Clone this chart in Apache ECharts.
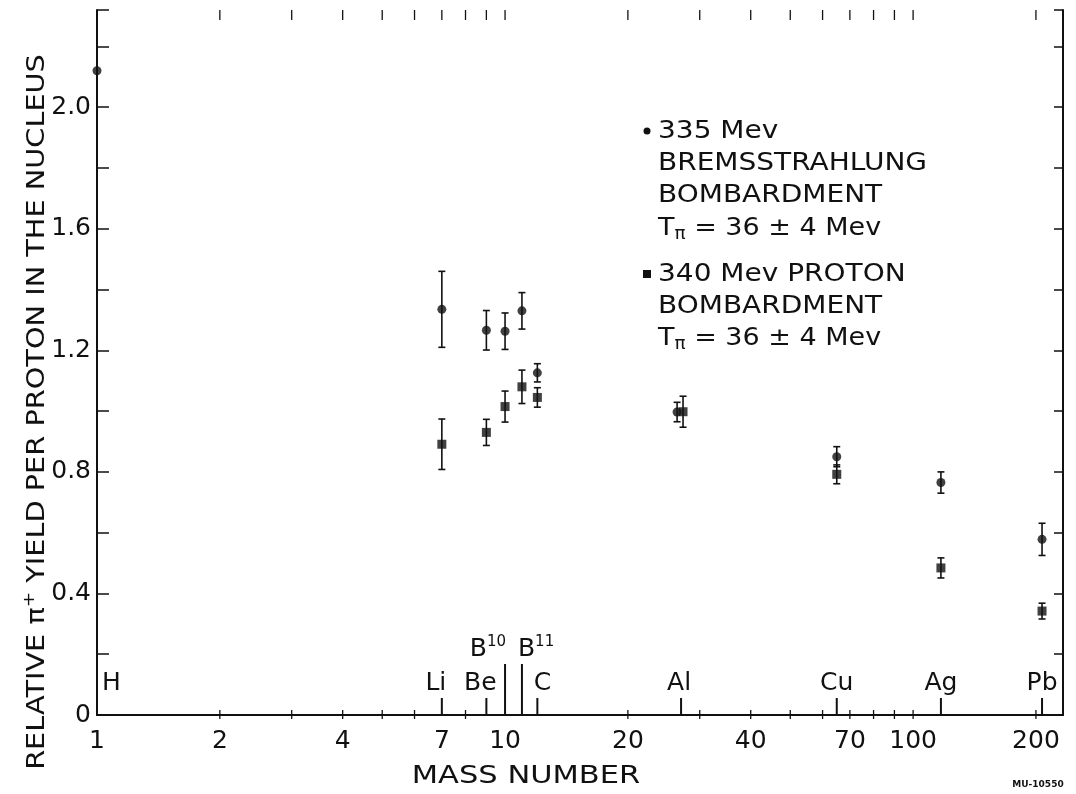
<!DOCTYPE html>
<html><head><meta charset="utf-8">
<script src="https://cdn.jsdelivr.net/npm/echarts@6/dist/echarts.min.js"></script>
<style>html,body{margin:0;padding:0;background:#fff}#c{width:1076px;height:794px}</style>
</head><body><div id="c"></div>
<script>
// ---- data ----
const xTickLabels = [1, 2, 4, 7, 10, 20, 40, 70, 100, 200];
const xBottomMinorTicks = [2, 3, 4, 5, 6, 8, 20, 30, 40, 50, 60, 70, 80, 90, 100, 200];
const xTopTicks = [2, 3, 4, 5, 6, 7, 8, 9, 10, 20, 30, 40, 50, 60, 70, 80, 90, 100, 200];
const yTickLabels = ['0', '0.4', '0.8', '1.2', '1.6', '2.0'];
const elementNames = ['H', 'Li', 'Be', 'B10', 'B11', 'C', 'Al', 'Cu', 'Ag', 'Pb'];
const elementMass = [1, 7, 9, 10, 11, 12, 27, 65, 117, 207];

// 335 Mev bremsstrahlung bombardment (circles)
const bremMass = [1, 7, 9, 10, 11, 12, 26.4, 65, 117, 207];
const bremYield = [2.12, 1.335, 1.266, 1.263, 1.33, 1.126, 0.997, 0.85, 0.765, 0.578];
const bremErr = [0, 0.125, 0.065, 0.06, 0.06, 0.03, 0.032, 0.033, 0.035, 0.053];

// 340 Mev proton bombardment (squares)
const protMass = [7, 9, 10, 11, 12, 27.3, 65, 117, 207];
const protYield = [0.891, 0.93, 1.015, 1.08, 1.045, 0.998, 0.792, 0.484, 0.342];
const protErr = [0.083, 0.043, 0.051, 0.055, 0.032, 0.051, 0.031, 0.033, 0.026];

const X_MIN = 1, X_MAX = 233, Y_MIN = 0, Y_MAX = 2.32;

// ---- style ----
const INK = '#111';
const FONT = 'DejaVu Sans';
const elemLabelStyle = {
  H: { dx: 5, align: 'left' }, Li: { dx: -6 }, Be: { dx: -6 },
  B10: { dx: 1, align: 'right' }, B11: { dx: -4, align: 'left' },
  C: { dx: 5 }, Al: { dx: -2 }, Cu: { dx: 0 }, Ag: { dx: 0 }, Pb: { dx: 0 }
};

const chart = echarts.init(document.getElementById('c'), null, { renderer: 'canvas' });

function logAxis(pos) {
  return {
    type: 'log', logBase: 10, min: X_MIN, max: X_MAX, position: pos,
    axisLine: { show: true, lineStyle: { color: INK, width: 2 } },
    axisTick: { show: false }, axisLabel: { show: false },
    splitLine: { show: false }, minorTick: { show: false }, minorSplitLine: { show: false }
  };
}

function errBarSeries(name, mass, vals, errs) {
  const d = [];
  mass.forEach((m, i) => { if (errs[i] > 0) d.push([m, vals[i] - errs[i], vals[i] + errs[i]]); });
  return {
    type: 'custom', name: name + ' err', clip: false, z: 3, silent: true,
    data: d, encode: { x: 0, y: [1, 2] },
    renderItem(params, api) {
      const lo = api.coord([api.value(0), api.value(1)]);
      const hi = api.coord([api.value(0), api.value(2)]);
      const w = 3.5;
      const st = { stroke: INK, lineWidth: 1.6 };
      return { type: 'group', children: [
        { type: 'line', shape: { x1: lo[0], y1: lo[1], x2: hi[0], y2: hi[1] }, style: st },
        { type: 'line', shape: { x1: lo[0] - w, y1: lo[1], x2: lo[0] + w, y2: lo[1] }, style: st },
        { type: 'line', shape: { x1: hi[0] - w, y1: hi[1], x2: hi[0] + w, y2: hi[1] }, style: st }
      ]};
    }
  };
}

const tLine = {
  text: '{t|T}{s|π}{t| = 36 ± 4 Mev}', verticalAlign: 'middle',
  rich: { t: { fontFamily: FONT, fontSize: 25, fill: INK, lineHeight: 30 },
          s: { fontFamily: FONT, fontSize: 17, fill: INK, lineHeight: 17, verticalAlign: 'bottom' } }
};

const option = {
  backgroundColor: '#fff',
  animation: false,
  grid: { left: 97, right: 13, top: 10, bottom: 79 },
  xAxis: [logAxis('bottom'), logAxis('top')],
  yAxis: [
    {
      type: 'value', min: Y_MIN, max: Y_MAX, interval: 0.2, position: 'left',
      axisLine: { show: true, lineStyle: { color: INK, width: 2 } },
      axisTick: { show: true, inside: true, length: 12, lineStyle: { color: INK, width: 1.5 } },
      axisLabel: {
        color: INK, fontFamily: FONT, fontSize: 25, margin: 6,
        formatter: v => {
          const k = Math.round(v / 0.4);
          if (Math.abs(v - 0.4 * k) < 1e-6 && k < yTickLabels.length) return yTickLabels[k];
          return '';
        }
      },
      splitLine: { show: false }
    },
    {
      type: 'value', min: Y_MIN, max: Y_MAX, interval: 0.2, position: 'right',
      axisLine: { show: true, lineStyle: { color: INK, width: 2 } },
      axisTick: { show: true, inside: true, length: 9, lineStyle: { color: INK, width: 1.5 } },
      axisLabel: { show: false }, splitLine: { show: false }
    }
  ],
  series: [
    {
      type: 'custom', name: 'bottom ticks', clip: false, silent: true,
      data: xBottomMinorTicks.map(v => [v, Y_MIN]),
      renderItem(params, api) {
        const p = api.coord([api.value(0), Y_MIN]);
        return { type: 'line', shape: { x1: p[0], y1: p[1] - 5, x2: p[0], y2: p[1] + 4 },
          style: { stroke: INK, lineWidth: 1.3 } };
      }
    },
    {
      type: 'custom', name: 'top ticks', clip: false, silent: true,
      data: xTopTicks.map(v => [v, Y_MAX]),
      renderItem(params, api) {
        const p = api.coord([api.value(0), Y_MAX]);
        return { type: 'line', shape: { x1: p[0], y1: p[1], x2: p[0], y2: p[1] + 10 },
          style: { stroke: INK, lineWidth: 1.3 } };
      }
    },
    {
      type: 'custom', name: 'x labels', clip: false, silent: true,
      data: xTickLabels.map(v => [v, Y_MIN]),
      renderItem(params, api) {
        const p = api.coord([api.value(0), Y_MIN]);
        return { type: 'text', x: p[0], y: p[1] + 26,
          style: { text: String(xTickLabels[params.dataIndex]), fill: INK,
            font: '25px "' + FONT + '"', align: 'center', verticalAlign: 'middle' } };
      }
    },
    {
      type: 'custom', name: 'elements', clip: false, silent: true,
      data: elementMass.map(v => [v, Y_MIN]),
      renderItem(params, api) {
        const name = elementNames[params.dataIndex];
        const p = api.coord([api.value(0), Y_MIN]);
        const isB = /^B\d+$/.test(name);
        const len = name === 'H' ? 0 : (isB ? 51 : 17);
        const st = elemLabelStyle[name] || {};
        const children = [];
        if (len > 0) children.push({ type: 'line',
          shape: { x1: p[0], y1: p[1], x2: p[0], y2: p[1] - len },
          style: { stroke: INK, lineWidth: 2 } });
        const ty = len > 0 ? p[1] - len - 15 : p[1] - 32;
        const txt = isB ? '{b|B}{s|' + name.slice(1) + '}' : '{b|' + name + '}';
        children.push({ type: 'text', x: p[0] + (st.dx || 0), y: ty,
          style: { text: txt, align: st.align || 'center', verticalAlign: 'middle',
            rich: {
              b: { fontFamily: FONT, fontSize: 25, fill: INK, color: INK, lineHeight: 28 },
              s: { fontFamily: FONT, fontSize: 15, fill: INK, color: INK, lineHeight: 15, verticalAlign: 'top' }
            } } });
        return { type: 'group', children };
      }
    },
    errBarSeries('brem', bremMass, bremYield, bremErr),
    errBarSeries('prot', protMass, protYield, protErr),
    {
      type: 'scatter', name: '335 Mev bremsstrahlung', z: 5, symbol: 'circle', symbolSize: 9,
      itemStyle: { color: INK }, data: bremMass.map((m, i) => [m, bremYield[i]])
    },
    {
      type: 'scatter', name: '340 Mev proton', z: 5, symbol: 'rect', symbolSize: 9,
      itemStyle: { color: INK }, data: protMass.map((m, i) => [m, protYield[i]])
    }
  ],
  graphic: [
    {
      type: 'text', x: 37, y: 412, rotation: Math.PI / 2, scaleX: 1.15,
      style: {
        text: '{a|RELATIVE π}{p|+}{a| YIELD PER PROTON IN THE NUCLEUS}',
        align: 'center', verticalAlign: 'middle',
        rich: {
          a: { fontFamily: FONT, fontSize: 25, fill: INK, lineHeight: 30 },
          p: { fontFamily: FONT, fontSize: 16, fill: INK, lineHeight: 16, verticalAlign: 'top' }
        }
      }
    },
    {
      type: 'text', x: 526, y: 776, scaleX: 1.22,
      style: { text: 'MASS NUMBER', font: '25px "' + FONT + '"', fill: INK, align: 'center', verticalAlign: 'middle' }
    },
    {
      type: 'text', x: 1038, y: 785,
      style: { text: 'MU-10550', font: 'bold 9px "' + FONT + '"', fill: INK, align: 'center', verticalAlign: 'middle' }
    },
    { type: 'circle', shape: { cx: 647, cy: 131, r: 3.5 }, style: { fill: INK } },
    { type: 'rect', shape: { x: 643, y: 270, width: 8, height: 8 }, style: { fill: INK } },
    { type: 'text', x: 658, y: 131, scaleX: 1.12, style: { text: '335 Mev', font: '25px "' + FONT + '"', fill: INK, verticalAlign: 'middle' } },
    { type: 'text', x: 658, y: 163, scaleX: 1.12, style: { text: 'BREMSSTRAHLUNG', font: '25px "' + FONT + '"', fill: INK, verticalAlign: 'middle' } },
    { type: 'text', x: 658, y: 195, scaleX: 1.12, style: { text: 'BOMBARDMENT', font: '25px "' + FONT + '"', fill: INK, verticalAlign: 'middle' } },
    { type: 'text', x: 658, y: 228, scaleX: 1.08, style: tLine },
    { type: 'text', x: 658, y: 274, scaleX: 1.12, style: { text: '340 Mev PROTON', font: '25px "' + FONT + '"', fill: INK, verticalAlign: 'middle' } },
    { type: 'text', x: 658, y: 306, scaleX: 1.12, style: { text: 'BOMBARDMENT', font: '25px "' + FONT + '"', fill: INK, verticalAlign: 'middle' } },
    { type: 'text', x: 658, y: 338, scaleX: 1.08, style: tLine }
  ]
};
chart.setOption(option);
</script></body></html>
